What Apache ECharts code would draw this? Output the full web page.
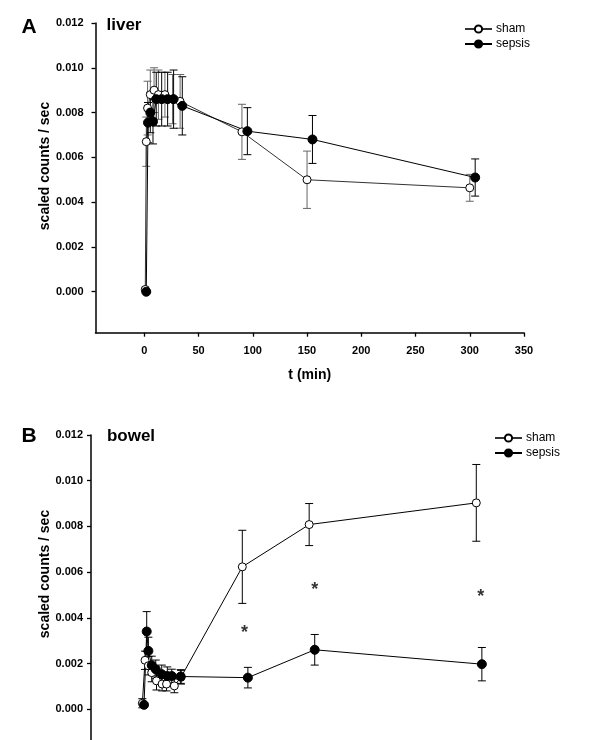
<!DOCTYPE html>
<html><head><meta charset="utf-8">
<script src="https://cdn.jsdelivr.net/npm/echarts@6/dist/echarts.min.js"></script>
<style>html,body{margin:0;padding:0;background:#fff}#c{width:600px;height:740px}</style>
</head><body><div id="c"></div>
<script>
// ---- Panel A (liver) ----
const liverShamT   = [0.9, 1.8, 3, 5.5, 9, 13, 19, 26, 33, 90, 150, 300];
const liverShamY   = [0.0001, 0.0067, 0.0082, 0.0088, 0.0090, 0.0088, 0.0088, 0.0086, 0.0085, 0.00714, 0.0050, 0.00464];
const liverShamE   = [0.0001, 0.0011, 0.0012, 0.0011, 0.0010, 0.0011, 0.0010, 0.0011, 0.0012, 0.00123, 0.00128, 0.0006];
const liverSepT    = [1.8, 3.4, 5.5, 8, 11, 16, 21.5, 27, 35, 95, 155, 305];
const liverSepY    = [0.0, 0.00755, 0.0080, 0.0076, 0.0086, 0.0086, 0.0086, 0.0086, 0.0083, 0.00717, 0.0068, 0.0051];
const liverSepE    = [0.0, 0.0009, 0.0009, 0.0010, 0.0012, 0.0012, 0.0012, 0.0013, 0.0013, 0.00105, 0.00107, 0.00083];
// ---- Panel B (bowel) ----
const bowelShamT   = [0.3, 2.7, 5.7, 8.7, 13, 18, 22, 29, 35, 90, 150, 300];
const bowelShamY   = [0.00026, 0.00214, 0.0019, 0.0016, 0.00124, 0.0011, 0.0011, 0.00102, 0.0014, 0.00623, 0.00808, 0.00903];
const bowelShamE   = [0.0002, 0.0004, 0.0004, 0.0004, 0.0004, 0.0003, 0.0003, 0.0003, 0.0003, 0.0016, 0.00092, 0.00168];
const bowelSepT    = [1.8, 4.2, 5.7, 8.7, 12.3, 17.7, 22.7, 26.7, 34.7, 95, 155, 305];
const bowelSepY    = [0.00019, 0.0034, 0.00255, 0.00192, 0.00175, 0.00153, 0.00145, 0.00145, 0.00143, 0.00138, 0.0026, 0.00197];
const bowelSepE    = [0.0001, 0.00087, 0.0006, 0.0004, 0.0004, 0.0004, 0.0004, 0.0003, 0.0003, 0.00045, 0.00067, 0.00073];
// significance stars (bowel)
const starT = [92, 155, 304];
const starY = [0.0035, 0.0054, 0.0051];
// tick labels
const yTicks = [0, 0.002, 0.004, 0.006, 0.008, 0.010, 0.012];
const xTicks = [0, 50, 100, 150, 200, 250, 300, 350];

const FONT = '"Liberation Sans", Arial, sans-serif';
const pts = (t, y) => t.map((v, i) => [v, y[i]]);
const errs = (t, y, e) => t.map((v, i) => [v, y[i], e[i]]);

function errSeries(name, xi, data, color) {
  return {
    type: 'custom', name: name + '_err', xAxisIndex: xi, yAxisIndex: xi, z: 1,
    silent: true, encode: {x: 0, y: 1}, data: data,
    renderItem: function (params, api) {
      const x = api.value(0), y = api.value(1), e = api.value(2);
      const top = api.coord([x, y + e]), bot = api.coord([x, y - e]);
      const hw = 4, st = {stroke: color, lineWidth: 1};
      return {type: 'group', children: [
        {type: 'line', shape: {x1: top[0], y1: top[1], x2: bot[0], y2: bot[1]}, style: st},
        {type: 'line', shape: {x1: top[0] - hw, y1: top[1], x2: top[0] + hw, y2: top[1]}, style: st},
        {type: 'line', shape: {x1: bot[0] - hw, y1: bot[1], x2: bot[0] + hw, y2: bot[1]}, style: st}
      ]};
    }
  };
}
function lineSeries(name, xi, data, filled, lineColor) {
  return {
    type: 'line', name: name, xAxisIndex: xi, yAxisIndex: xi, z: 3, data: data,
    symbol: 'circle', symbolSize: filled ? 9 : 8,
    lineStyle: {color: lineColor, width: 1},
    itemStyle: {color: filled ? '#000' : '#fff', borderColor: '#000', borderWidth: 1},
    emphasis: {disabled: true}
  };
}
function yAxis(gi, margin) {
  return {
    type: 'value', gridIndex: gi, min: -0.00183, max: 0.012,
    axisLine: {show: true, onZero: false, lineStyle: {color: '#000', width: 1.5}},
    axisTick: {show: true, length: 4, customValues: yTicks, lineStyle: {color: '#000', width: 1.3}},
    axisLabel: {customValues: yTicks, formatter: v => v.toFixed(3), color: '#000',
      fontFamily: FONT, fontWeight: 'bold', fontSize: 11, margin: margin},
    splitLine: {show: false}
  };
}
function xAxis(gi, min, showName) {
  return {
    type: 'value', gridIndex: gi, min: min, max: 350,
    axisLine: {show: true, onZero: false, lineStyle: {color: '#000', width: 1.5}},
    axisTick: {show: true, length: 4, customValues: xTicks, lineStyle: {color: '#000', width: 1.3}},
    axisLabel: {customValues: xTicks, color: '#000', fontFamily: FONT, fontWeight: 'bold', fontSize: 11, margin: 13},
    splitLine: {show: false},
    name: showName ? 't (min)' : '', nameLocation: 'middle', nameGap: 35,
    nameTextStyle: {color: '#000', fontFamily: FONT, fontWeight: 'bold', fontSize: 14}
  };
}
function legendAt(left, top) {
  return {
    data: ['sham', 'sepsis'], orient: 'vertical', left: left, top: top,
    itemWidth: 27, itemHeight: 9, itemGap: 3, selectedMode: false,
    textStyle: {color: '#000', fontFamily: FONT, fontSize: 12, padding: [0, 0, 0, -1]}
  };
}
function txt(x, y, s, size, rot) {
  return {type: 'text', x: x, y: y, rotation: rot || 0,
    style: {text: s, fill: '#000', font: 'bold ' + size + 'px ' + FONT, textAlign: 'center', textVerticalAlign: 'middle'}};
}

const chart = echarts.init(document.getElementById('c'), null, {renderer: 'canvas'});
chart.setOption({
  animation: false,
  backgroundColor: '#fff',
  grid: [
    {left: 95.5, top: 23, width: 428.5, height: 309.7, outerBoundsMode: 'none', containLabel: false},
    {left: 91, top: 435, width: 441, height: 316, outerBoundsMode: 'none', containLabel: false}
  ],
  xAxis: [xAxis(0, -45, true), xAxis(1, -45.8, false)],
  yAxis: [yAxis(0, 12), yAxis(1, 8)],
  legend: [legendAt(459, 18), legendAt(489, 427)],
  graphic: [
    txt(29, 27, 'A', 21), txt(124, 25, 'liver', 17),
    txt(29, 436, 'B', 21), txt(131, 436, 'bowel', 17),
    txt(45, 166, 'scaled counts / sec', 14, Math.PI / 2),
    txt(45, 574, 'scaled counts / sec', 14, Math.PI / 2)
  ],
  series: [
    errSeries('sham', 0, errs(liverShamT, liverShamY, liverShamE), '#666'),
    errSeries('sepsis', 0, errs(liverSepT, liverSepY, liverSepE), '#000'),
    lineSeries('sham', 0, pts(liverShamT, liverShamY), false, '#333'),
    lineSeries('sepsis', 0, pts(liverSepT, liverSepY), true, '#000'),
    errSeries('sham', 1, errs(bowelShamT, bowelShamY, bowelShamE), '#000'),
    errSeries('sepsis', 1, errs(bowelSepT, bowelSepY, bowelSepE), '#000'),
    lineSeries('sham', 1, pts(bowelShamT, bowelShamY), false, '#000'),
    lineSeries('sepsis', 1, pts(bowelSepT, bowelSepY), true, '#000'),
    {
      type: 'scatter', name: 'stars', xAxisIndex: 1, yAxisIndex: 1, symbolSize: 0, silent: true,
      data: pts(starT, starY),
      label: {show: true, formatter: '*', position: 'inside', offset: [0, 4], color: '#000',
        fontFamily: FONT, fontWeight: 'bold', fontSize: 18}
    }
  ]
});
</script>
</body></html>
